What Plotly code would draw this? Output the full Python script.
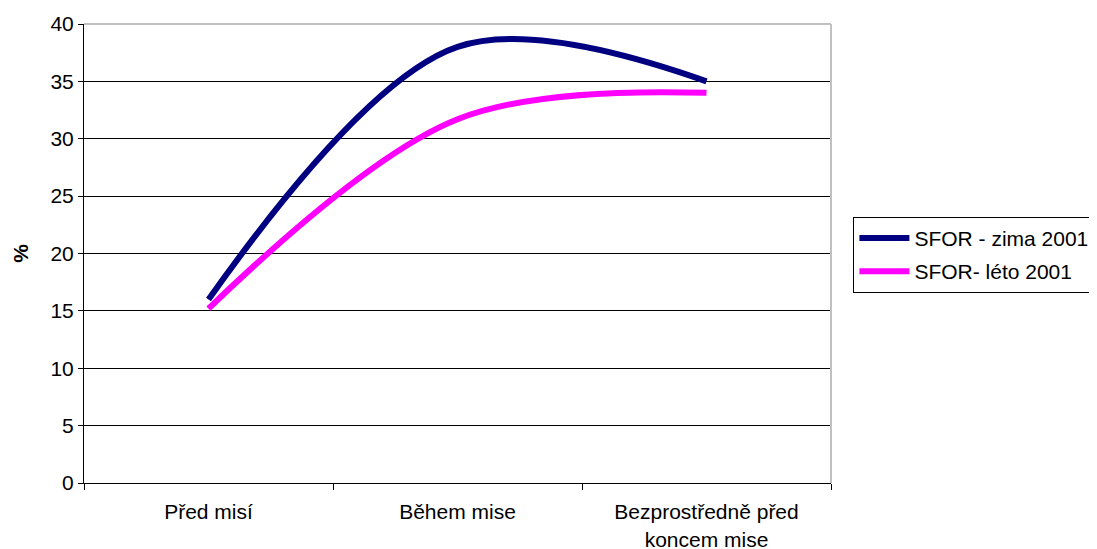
import plotly.graph_objects as go

categories = ["Před misí", "Během mise", "Bezprostředně před<br>koncem mise"]
zima = [16, 38, 35]
leto = [15.2, 31.7, 34]
y_ticks = [0, 5, 10, 15, 20, 25, 30, 35, 40]

FONT = "Liberation Sans, Arial, sans-serif"
FS = 21

fig = go.Figure()
fig.add_trace(go.Scatter(x=categories, y=zima, mode="lines", name="SFOR - zima 2001",
                         legendgroup="a",
                         line=dict(color="#000080", width=6, shape="spline", smoothing=1)))
fig.add_trace(go.Scatter(x=categories, y=leto, mode="lines", name="SFOR- léto 2001",
                         legendgroup="b",
                         line=dict(color="#FF00FF", width=6, shape="spline", smoothing=1)))

fig.update_layout(
    width=1097, height=549,
    margin=dict(l=76, r=274, t=16, b=74, autoexpand=False),
    paper_bgcolor="white", plot_bgcolor="white",
    font=dict(family=FONT, size=FS, color="black"),
    showlegend=True,
    legend=dict(x=1.030, y=0.580, xanchor="left", yanchor="top",
                bordercolor="black", borderwidth=1, bgcolor="white",
                font=dict(family=FONT, size=FS, color="black"),
                tracegroupgap=3, itemwidth=50),
    xaxis=dict(type="category", range=[-0.5, 2.5], showgrid=False, automargin=False,
               showline=True, linecolor="black", linewidth=1,
               ticks="outside", tickson="boundaries", ticklen=6, tickcolor="black",
               ticklabelstandoff=10,
               tickfont=dict(family=FONT, size=FS)),
    yaxis=dict(range=[0, 40], tickvals=y_ticks, showgrid=True, gridcolor="black", gridwidth=1,
               showline=True, linecolor="black", linewidth=1, zeroline=False, automargin=False,
               ticks="outside", ticklen=5, tickcolor="black",
               tickfont=dict(family=FONT, size=FS),
               title=dict(text="<b>%</b>", font=dict(family=FONT, size=FS), standoff=16)),
    shapes=[dict(type="line", xref="paper", yref="paper", x0=0, x1=1, y0=1, y1=1,
                 line=dict(color="#c0c0c0", width=2)),
            dict(type="line", xref="paper", yref="paper", x0=1, x1=1, y0=0, y1=1,
                 line=dict(color="#c0c0c0", width=2))],
)

fig.write_html("out.html")
